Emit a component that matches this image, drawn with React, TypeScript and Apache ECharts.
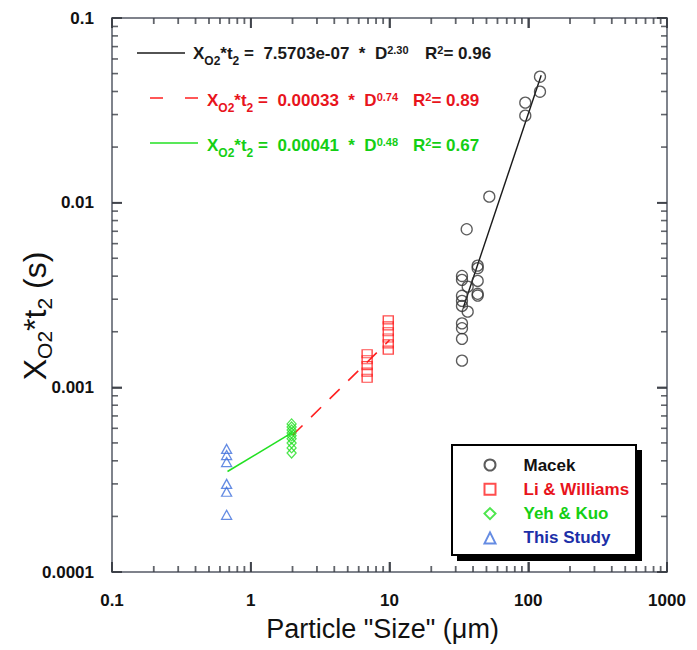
import React, { useEffect, useRef } from 'react';
import * as echarts from 'echarts';

const FONT = '"Liberation Sans", Arial, Helvetica, sans-serif';

const X_MIN = 0.1;
const X_MAX = 1000;
const Y_MIN = 0.0001;
const Y_MAX = 0.1;

const xTickLabels = ['0.1', '1', '10', '100', '1000'];
const yTickLabels = ['0.0001', '0.001', '0.01', '0.1'];
const xMajorTicks = [0.1, 1, 10, 100, 1000];
const yMajorTicks = [0.0001, 0.001, 0.01, 0.1];

const seriesNames = ['Macek', 'Li & Williams', 'Yeh & Kuo', 'This Study'];

const macekX = [121.5, 121.5, 95.2, 95.2, 52.4, 36.0, 43.2, 43.2, 43.2, 43.2, 43.2, 33.3, 33.3, 36.6, 33.3, 33.3, 33.3, 36.6, 33.3, 33.3, 33.3, 33.3];
const macekY = [0.0481, 0.0399, 0.0348, 0.0296, 0.01078, 0.00718, 0.00456, 0.00442, 0.00377, 0.00321, 0.00314, 0.00401, 0.00382, 0.00351, 0.00313, 0.00294, 0.00276, 0.00257, 0.00222, 0.00209, 0.00183, 0.001395];

const liX = [6.9, 6.9, 6.9, 6.9, 6.9, 9.8, 9.8, 9.8, 9.8, 9.8, 9.8];
const liY = [0.00152, 0.00141, 0.00131, 0.00121, 0.00112, 0.00232, 0.00215, 0.002, 0.00185, 0.00172, 0.00159];

const yehX = [1.97, 1.97, 1.97, 1.97, 1.97, 1.97, 1.97, 1.97, 1.97];
const yehY = [0.000634, 0.00061, 0.000588, 0.000566, 0.000546, 0.000526, 0.0005, 0.00047, 0.000441];

const studyX = [0.67, 0.67, 0.67, 0.67, 0.67, 0.67];
const studyY = [0.000464, 0.00043, 0.000394, 0.0003, 0.000272, 0.000204];

const fitMacekX = [34, 124];
const fitMacekY = [0.0027, 0.049];
const fitLiX = [2, 10];
const fitLiY = [0.00055, 0.0018];
const fitYehX = [0.68, 2];
const fitYehY = [0.00035, 0.00057];

// minor log ticks: multipliers 2..9 inside each decade
const minorMultipliers = [2, 3, 4, 5, 6, 7, 8, 9];
const xDecades = [0.1, 1, 10, 100];
const yDecades = [0.0001, 0.001, 0.01];

const BLACK = '#1a1a1a';
const MARK_BLACK = '#333333';
const RED = '#ff2020';
const RED_TEXT = '#e8141c';
const GREEN = '#22e022';
const GREEN_TEXT = '#14cf14';
const BLUE = '#3f6fdc';
const BLUE_TEXT = '#1c2fa8';
const AXIS = '#555a66';
const TICK = '#3a3d45';

const zip = (xs: number[], ys: number[]) => xs.map((x, i) => [x, ys[i]]);
const minorValues = (decades: number[]) => decades.flatMap((d) => minorMultipliers.map((m) => m * d));

const eqRich = (color: string) => ({
  m: { fontSize: 17, fontWeight: 'bold', fontFamily: FONT, fill: color, lineHeight: 28 },
  sub: { fontSize: 12, fontWeight: 'bold', fontFamily: FONT, fill: color, lineHeight: 12, verticalAlign: 'bottom' },
  sup: { fontSize: 11, fontWeight: 'bold', fontFamily: FONT, fill: color, lineHeight: 11, verticalAlign: 'top', padding: [5, 0, 0, 0] },
});

const eqText = (x: number, y: number, text: string, color: string) => ({
  type: 'text',
  x,
  y,
  z: 5,
  style: { text, rich: eqRich(color), align: 'left', verticalAlign: 'middle', fill: color },
});

export default function App() {
  const ref = useRef<HTMLDivElement>(null);
  useEffect(() => {
    if (!ref.current) return;
    const chart = echarts.init(ref.current, null, { renderer: 'svg' });

    const tickLabelStyle = {
      fontSize: 17,
      fontWeight: 'bold',
      fontFamily: FONT,
      color: '#111',
    };

    const scatterBase = (name: string, data: number[][], symbol: string, size: any, color: string) => ({
      name,
      type: 'scatter',
      data,
      symbol,
      symbolSize: size,
      itemStyle: { color: 'rgba(255,255,255,0)', borderColor: color, borderWidth: 1.3 },
      z: 4,
    });

    // tick marks drawn as thin rect symbols sitting on the frame, pointing inward
    const tickSeries = (name: string, data: number[][], horizontalEdge: boolean, inwardSign: number, len: number) => ({
      name,
      type: 'scatter',
      data,
      silent: true,
      clip: false,
      symbol: 'rect',
      symbolSize: horizontalEdge ? [1.8, len] : [len, 1.6],
      symbolOffset: horizontalEdge ? [0, (inwardSign * len) / 2] : [(inwardSign * len) / 2, 0],
      itemStyle: { color: TICK },
      z: 6,
    });

    const xMinor = minorValues(xDecades);
    const yMinor = minorValues(yDecades);

    const axisBase = (position: string, extra: any = {}) => ({
      type: 'log',
      logBase: 10,
      position,
      axisLine: { show: true, onZero: false, lineStyle: { color: AXIS, width: 1.5 } },
      axisTick: { show: true, inside: true, length: 10, lineStyle: { color: TICK, width: 1.6 } },
      axisLabel: { show: false },
      splitLine: { show: false },
      ...extra,
    });

    const option: any = {
      animation: false,
      backgroundColor: '#fff',
      grid: { left: 112, right: 30, top: 18, bottom: 78, containLabel: false },
      xAxis: [
        axisBase('bottom', {
          min: X_MIN,
          max: X_MAX,
          axisLabel: {
            ...tickLabelStyle,
            margin: 20,
            formatter: (v: number) => xTickLabels[Math.round(Math.log10(v)) + 1] ?? '',
          },
          name: 'Particle "Size" (μm)',
          nameLocation: 'middle',
          nameGap: 43,
          nameMoveOverlap: false,
          nameTextStyle: { fontSize: 27, fontFamily: FONT, color: '#111', padding: [0, 14, 0, 0] },
        }),
        axisBase('top', { min: X_MIN, max: X_MAX }),
      ],
      yAxis: [
        axisBase('left', {
          min: Y_MIN,
          max: Y_MAX,
          axisLabel: {
            ...tickLabelStyle,
            margin: 18,
            formatter: (v: number) => yTickLabels[Math.round(Math.log10(v)) + 4] ?? '',
          },
          name: '{a|X}{s|O2}{a|*t}{s|2}{a| (s)}',
          nameLocation: 'middle',
          nameRotate: 90,
          nameGap: 57,
          nameMoveOverlap: false,
          nameTextStyle: {
            padding: [0, 42, 0, 0],
            rich: {
              a: { fontSize: 32, fontFamily: FONT, color: '#111', lineHeight: 40 },
              s: { fontSize: 21, fontFamily: FONT, color: '#111', lineHeight: 21, verticalAlign: 'bottom' },
            },
          },
        }),
        axisBase('right', { min: Y_MIN, max: Y_MAX }),
      ],
      legend: {
        orient: 'vertical',
        left: 483.5,
        top: 456.5,
        padding: 0,
        itemWidth: 11,
        itemHeight: 11,
        itemGap: 7.3,
        selectedMode: false,
        z: 10,
        textStyle: { fontSize: 17, fontWeight: 'bold', fontFamily: FONT, lineHeight: 11, padding: [0, 0, 0, 23] },
        data: [
          { name: seriesNames[0], textStyle: { color: '#111' } },
          { name: seriesNames[1], textStyle: { color: RED_TEXT } },
          { name: seriesNames[2], textStyle: { color: GREEN_TEXT } },
          { name: seriesNames[3], textStyle: { color: BLUE_TEXT } },
        ],
      },
      graphic: [
        { type: 'rect', z: 1, shape: { x: 457, y: 450, width: 185, height: 111 }, style: { fill: '#000' } },
        { type: 'rect', z: 2, shape: { x: 452, y: 445, width: 184, height: 110 }, style: { fill: '#fff', stroke: '#000', lineWidth: 2 } },
        { type: 'line', z: 5, shape: { x1: 137, y1: 53, x2: 185, y2: 53 }, style: { stroke: BLACK, lineWidth: 1.5 } },
        { type: 'line', z: 5, shape: { x1: 150, y1: 98, x2: 198, y2: 98 }, style: { stroke: RED, lineWidth: 1.5, lineDash: [13, 22] } },
        { type: 'line', z: 5, shape: { x1: 150, y1: 143, x2: 198, y2: 143 }, style: { stroke: GREEN, lineWidth: 1.5 } },
        eqText(193, 53, '{m|X}{sub|O2}{m|*t}{sub|2}{m| =  7.5703e-07  *  D}{sup|2.30}', BLACK),
        eqText(425, 53, '{m|R}{sup|2}{m|= 0.96}', BLACK),
        eqText(207, 100, '{m|X}{sub|O2}{m|*t}{sub|2}{m| =  0.00033  *  D}{sup|0.74}', RED_TEXT),
        eqText(413, 100, '{m|R}{sup|2}{m|= 0.89}', RED_TEXT),
        eqText(207, 145, '{m|X}{sub|O2}{m|*t}{sub|2}{m| =  0.00041  *  D}{sup|0.48}', GREEN_TEXT),
        eqText(413, 145, '{m|R}{sup|2}{m|= 0.67}', GREEN_TEXT),
      ],
      series: [
        tickSeries('tickMajorBottom', xMajorTicks.map((v) => [v, Y_MIN]), true, -1, 10),
        tickSeries('tickMajorTop', xMajorTicks.map((v) => [v, Y_MAX]), true, 1, 10),
        tickSeries('tickMajorLeft', yMajorTicks.map((v) => [X_MIN, v]), false, 1, 10),
        tickSeries('tickMajorRight', yMajorTicks.map((v) => [X_MAX, v]), false, -1, 10),
        tickSeries('tickMinorBottom', xMinor.map((v) => [v, Y_MIN]), true, -1, 6),
        tickSeries('tickMinorTop', xMinor.map((v) => [v, Y_MAX]), true, 1, 6),
        tickSeries('tickMinorLeft', yMinor.map((v) => [X_MIN, v]), false, 1, 6),
        tickSeries('tickMinorRight', yMinor.map((v) => [X_MAX, v]), false, -1, 6),
        {
          name: 'fitMacek',
          type: 'line',
          data: zip(fitMacekX, fitMacekY),
          showSymbol: false,
          symbol: 'none',
          lineStyle: { color: BLACK, width: 1.4 },
          z: 3,
        },
        {
          name: 'fitLi',
          type: 'line',
          data: zip(fitLiX, fitLiY),
          showSymbol: false,
          symbol: 'none',
          lineStyle: { color: RED, width: 1.6, type: [14, 12] },
          z: 3,
        },
        {
          name: 'fitYeh',
          type: 'line',
          data: zip(fitYehX, fitYehY),
          showSymbol: false,
          symbol: 'none',
          lineStyle: { color: GREEN, width: 1.6 },
          z: 3,
        },
        scatterBase(seriesNames[0], zip(macekX, macekY), 'circle', 11, MARK_BLACK),
        scatterBase(seriesNames[1], zip(liX, liY), 'rect', [10, 8], RED),
        scatterBase(seriesNames[2], zip(yehX, yehY), 'diamond', [9, 10], GREEN),
        scatterBase(seriesNames[3], zip(studyX, studyY), 'triangle', [10, 9], BLUE),
      ],
    };

    chart.setOption(option);
    return () => chart.dispose();
  }, []);

  return <div ref={ref} style={{ position: 'absolute', left: 0, top: 0, width: 697, height: 650 }} />;
}
